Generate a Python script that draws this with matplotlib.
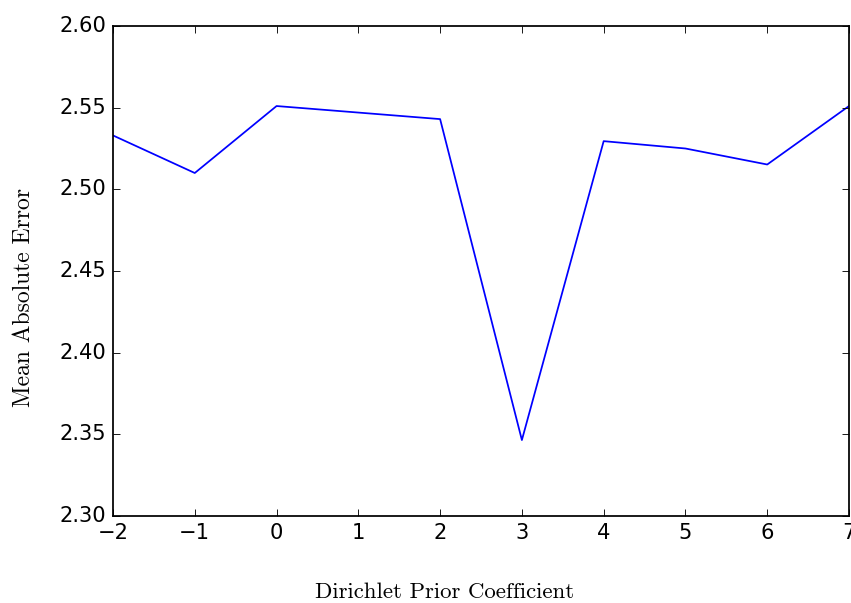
import matplotlib
matplotlib.use("Agg")
import matplotlib.pyplot as plt

# prior coefficient vs. mean absolute error
coef = [-2, -1, 0, 1, 2, 3, 4, 5, 6, 7]
mae = [2.533, 2.510, 2.551, 2.547, 2.543, 2.3465, 2.5295, 2.525, 2.5152, 2.551]

plt.style.use("classic")
fig = plt.figure(figsize=(851 / 126, 603 / 126), dpi=126, facecolor="white")
ax = fig.add_axes([113 / 851, 1 - 516 / 603, (849 - 113) / 851, (516 - 26) / 603])

ax.plot(coef, mae, color="b", linewidth=1.0)
ax.set_xlim(-2, 7)
ax.set_ylim(2.30, 2.60)
ax.set_xticks(range(-2, 8))
ax.set_yticks([2.30, 2.35, 2.40, 2.45, 2.50, 2.55, 2.60])
ax.yaxis.set_major_formatter(matplotlib.ticker.FormatStrFormatter("%.2f"))

ax.set_xlabel("Dirichlet Prior Coefficient", family="cmr10", fontsize=13, va="center")
ax.set_ylabel("Mean Absolute Error", family="cmr10", fontsize=13.5, va="center")
ax.xaxis.set_label_coords(0.451, -0.155)
ax.yaxis.set_label_coords(-0.121, 0.445)

fig.savefig("out.png", dpi=126, facecolor="white")
